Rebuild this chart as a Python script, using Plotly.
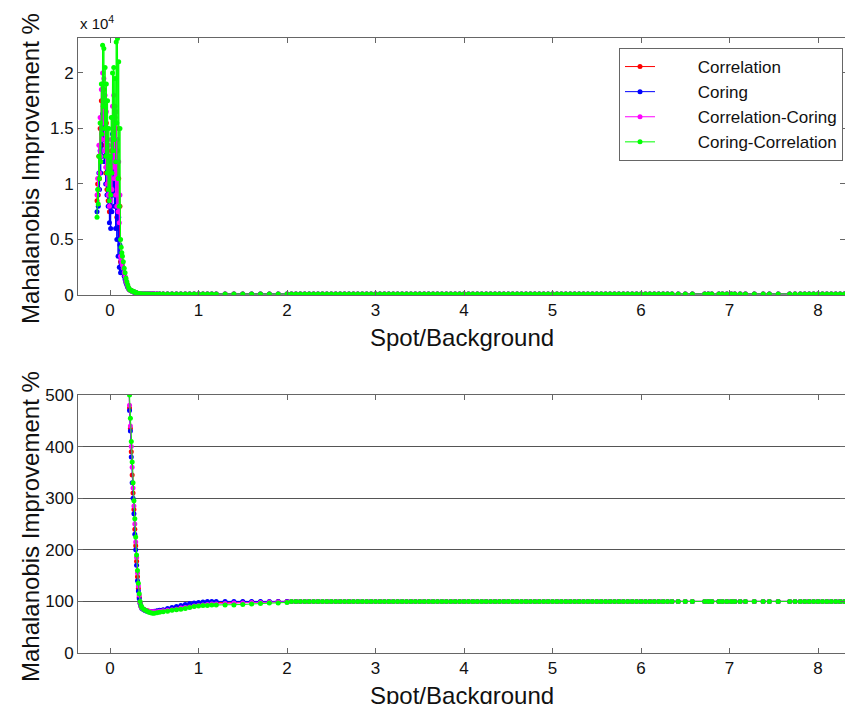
import plotly.graph_objects as go

# Spot/Background ratio shared by all four methods (near-field part)
x_head = [
    -0.147, -0.140, -0.133, -0.126, -0.119, -0.112, -0.105, -0.098, -0.091, -0.084,
    -0.077, -0.070, -0.063, -0.056, -0.049, -0.042, -0.035, -0.028, -0.021, -0.014,
    -0.007, 0.000, 0.007, 0.014, 0.021, 0.028, 0.035, 0.042, 0.049, 0.056,
    0.063, 0.070, 0.077, 0.084, 0.091, 0.098, 0.105, 0.112, 0.119, 0.126,
    0.133, 0.140, 0.150, 0.160, 0.170, 0.180, 0.190, 0.200, 0.210, 0.220,
    0.230, 0.240, 0.250, 0.260, 0.270, 0.280, 0.290, 0.300, 0.310, 0.320,
    0.330, 0.340, 0.350, 0.360, 0.380, 0.400, 0.420, 0.440, 0.460, 0.480,
    0.500, 0.530, 0.560, 0.600, 0.650, 0.700, 0.750, 0.800, 0.850, 0.900,
    0.950, 1.000, 1.050, 1.100, 1.150, 1.200, 1.300, 1.400, 1.500, 1.600,
    1.700, 1.800, 1.900, 2.000,
]

# Mahalanobis improvement (%) per method over x_head
correlation = [
    8500, 10000, 9000, 12500, 10500, 15000, 12000, 17500, 13500, 19000,
    15000, 18500, 12500, 17000, 11000, 15500, 9500, 14000, 8500, 12500,
    7500, 10500, 8000, 13000, 9000, 16000, 11000, 17000, 10000, 16000,
    8000, 15000, 7000, 13000, 6000, 10500, 5000, 8000, 3000, 2900,
    2800, 2600, 2200, 1900, 1600, 1200, 1000, 750, 580, 475,
    435, 390, 345, 310, 278, 240, 208, 178, 148, 125,
    108, 97, 90, 87, 85, 83, 82, 81, 80, 80,
    80, 81, 82, 83, 84, 86, 87, 89, 91, 92,
    94, 95, 96, 97, 97, 98, 98, 98, 99, 99,
    99, 99, 100, 100,
]
coring = [
    7500, 9000, 8000, 11000, 9500, 13000, 11000, 15000, 12500, 16300,
    14000, 16000, 12000, 15000, 10000, 14000, 9000, 12500, 8000, 11000,
    6500, 9500, 6000, 12000, 7500, 14500, 9000, 15000, 8000, 13000,
    6000, 12000, 5000, 10000, 3500, 7000, 2500, 4500, 2000, 2300,
    2600, 2400, 2000, 1700, 1400, 1100, 900, 700, 560, 470,
    430, 380, 330, 300, 270, 230, 200, 170, 140, 120,
    105, 96, 90, 86, 84, 82, 81, 80, 80, 80,
    81, 82, 83, 84, 86, 88, 90, 92, 94, 96,
    97, 98, 99, 100, 100, 100, 100, 100, 100, 100,
    100, 100, 100, 100,
]
correlation_coring = [
    9000, 10500, 9500, 13500, 11000, 16000, 12500, 18500, 14000, 20000,
    15500, 19500, 13000, 18000, 11500, 16500, 10000, 15000, 9000, 13500,
    8000, 11000, 8500, 14000, 9500, 17000, 11500, 18000, 10500, 17000,
    9000, 16500, 8000, 14000, 7500, 12000, 6500, 9000, 3500, 3200,
    2900, 2700, 2400, 2000, 1700, 1300, 1050, 800, 600, 480,
    440, 400, 360, 320, 285, 250, 215, 185, 155, 130,
    112, 98, 90, 87, 85, 83, 82, 81, 80, 80,
    80, 80, 81, 82, 83, 84, 85, 87, 88, 89,
    91, 92, 93, 94, 95, 95, 96, 97, 97, 98,
    98, 99, 99, 99,
]
coring_correlation = [
    7000, 9500, 8200, 12500, 10500, 15500, 12000, 19000, 14500, 22500,
    17000, 22200, 15000, 20500, 12500, 19000, 11000, 17500, 9500, 15000,
    8500, 12500, 9000, 16000, 11000, 20000, 13000, 20500, 14000, 19500,
    12000, 22800, 15500, 23100, 10500, 21000, 8000, 15000, 5000, 4300,
    3800, 3500, 3000, 2400, 2000, 1500, 1200, 900, 650, 500,
    455, 410, 370, 330, 295, 260, 225, 190, 160, 135,
    115, 100, 92, 88, 85, 83, 81, 79, 78, 77,
    77, 78, 79, 80, 81, 83, 84, 85, 86, 88,
    90, 91, 92, 92, 93, 93, 93, 93, 94, 95,
    96, 97, 97, 98,
]

# Far-field part where every method settles at 100 %
x_tail = [
    2.05, 2.10, 2.15, 2.20, 2.25, 2.30, 2.35, 2.40, 2.45, 2.50,
    2.55, 2.60, 2.65, 2.70, 2.75, 2.80, 2.85, 2.90, 2.95, 3.00,
    3.05, 3.10, 3.15, 3.20, 3.25, 3.30, 3.35, 3.40, 3.45, 3.50,
    3.55, 3.60, 3.65, 3.70, 3.75, 3.80, 3.85, 3.90, 3.95, 4.00,
    4.05, 4.10, 4.15, 4.20, 4.25, 4.30, 4.35, 4.40, 4.45, 4.50,
    4.55, 4.60, 4.65, 4.70, 4.75, 4.80, 4.85, 4.90, 4.95, 5.00,
    5.05, 5.10, 5.15, 5.20, 5.25, 5.30, 5.35, 5.40, 5.45, 5.50,
    5.55, 5.60, 5.65, 5.70, 5.75, 5.80, 5.85, 5.90, 5.95, 6.00,
    6.05, 6.10, 6.15, 6.20, 6.25, 6.30, 6.35, 6.42, 6.50, 6.58,
    6.72, 6.76, 6.80, 6.88, 6.92, 6.97, 7.02, 7.06, 7.12, 7.18,
    7.28, 7.38, 7.45, 7.55, 7.68, 7.74, 7.80, 7.85, 7.90, 7.95,
    8.00, 8.05, 8.10, 8.15, 8.20, 8.25, 8.30,
]
y_tail = [
    100, 100, 100, 100, 100, 100, 100, 100, 100, 100,
    100, 100, 100, 100, 100, 100, 100, 100, 100, 100,
    100, 100, 100, 100, 100, 100, 100, 100, 100, 100,
    100, 100, 100, 100, 100, 100, 100, 100, 100, 100,
    100, 100, 100, 100, 100, 100, 100, 100, 100, 100,
    100, 100, 100, 100, 100, 100, 100, 100, 100, 100,
    100, 100, 100, 100, 100, 100, 100, 100, 100, 100,
    100, 100, 100, 100, 100, 100, 100, 100, 100, 100,
    100, 100, 100, 100, 100, 100, 100, 100, 100, 100,
    100, 100, 100, 100, 100, 100, 100, 100, 100, 100,
    100, 100, 100, 100, 100, 100, 100, 100, 100, 100,
    100, 100, 100, 100, 100, 100, 100,
]

series_names = ["Correlation", "Coring", "Correlation-Coring", "Coring-Correlation"]
series_values = [correlation, coring, correlation_coring, coring_correlation]
series_colors = ["#ff0000", "#0000ff", "#ff00ff", "#00ff00"]

x_ticks = [0, 1, 2, 3, 4, 5, 6, 7, 8]
top_y_ticks = [0, 5000, 10000, 15000, 20000]
top_y_labels = ["0", "0.5", "1", "1.5", "2"]
bottom_y_ticks = [0, 100, 200, 300, 400, 500]

FONT = "Liberation Sans, Arial, sans-serif"
W, H = 845, 704
ML, MR, MT, MB = 78, 0, 38, 51
PW, PH = W - ML - MR, H - MT - MB
LEGEND_INDENT = "\u00a0" * 8  # pushes legend labels away from the line samples


def py(pixel_y):
    """Convert a pixel row to paper y."""
    return (H - MB - pixel_y) / PH


def px(pixel_x):
    """Convert a pixel column to paper x."""
    return (pixel_x - ML) / PW


fig = go.Figure()
for name, vals, col in zip(series_names, series_values, series_colors):
    xs = x_head + x_tail
    ys = vals + y_tail
    for xa, ya, show in (("x", "y", True), ("x2", "y2", False)):
        fig.add_trace(go.Scatter(
            x=xs, y=ys, xaxis=xa, yaxis=ya,
            mode="lines+markers", name=LEGEND_INDENT + name, legendgroup=name,
            showlegend=show,
            line=dict(color=col, width=1),
            marker=dict(color=col, size=5),
        ))

axis_common = dict(
    showline=True, linecolor="#666", linewidth=1, mirror="ticks",
    ticks="inside", ticklen=5, tickcolor="#666", zeroline=False,
    tickfont=dict(family=FONT, size=17, color="#111"),
)

fig.update_layout(
    width=W, height=H,
    margin=dict(l=ML, r=MR, t=MT, b=MB, pad=0),
    paper_bgcolor="white", plot_bgcolor="white",
    font=dict(family=FONT, color="#111"),
    xaxis=dict(domain=[0, 1], anchor="y", range=[-0.362, 8.305],
               tickvals=x_ticks, showgrid=False, **axis_common),
    yaxis=dict(domain=[py(295), 1], anchor="x", range=[0, 23150],
               tickvals=top_y_ticks, ticktext=top_y_labels,
               showgrid=False, **axis_common),
    xaxis2=dict(domain=[0, 1], anchor="y2", range=[-0.362, 8.305],
                tickvals=x_ticks, showgrid=False, **axis_common),
    yaxis2=dict(domain=[0, py(395)], anchor="x2", range=[0, 500],
                tickvals=bottom_y_ticks, showgrid=True,
                gridcolor="#555", gridwidth=1, **axis_common),
    showlegend=True,
    legend=dict(
        x=px(843), y=py(48), xanchor="right", yanchor="top",
        bgcolor="white", bordercolor="#666", borderwidth=1,
        font=dict(family=FONT, size=17, color="#111"),
        tracegroupgap=0, itemwidth=30,
    ),
)

title_font = dict(family=FONT, size=24, color="#111")
annotations = [
    dict(text="Spot/Background", x=0.5, y=py(337), xref="paper", yref="paper",
         xanchor="center", yanchor="middle", showarrow=False, font=title_font),
    dict(text="Spot/Background", x=0.5, y=py(695), xref="paper", yref="paper",
         xanchor="center", yanchor="middle", showarrow=False, font=title_font),
    dict(text="Mahalanobis Improvement %", x=px(30), y=py(169), xref="paper",
         yref="paper", xanchor="center", yanchor="middle", textangle=-90,
         showarrow=False, font=title_font),
    dict(text="Mahalanobis Improvement %", x=px(30), y=py(527), xref="paper",
         yref="paper", xanchor="center", yanchor="middle", textangle=-90,
         showarrow=False, font=title_font),
    dict(text="x 10<sup>4</sup>", x=0, y=py(34), xref="paper", yref="paper",
         xanchor="left", yanchor="bottom", showarrow=False,
         font=dict(family=FONT, size=15, color="#111")),
]
fig.update_layout(annotations=annotations)

fig.write_html("out.html")
